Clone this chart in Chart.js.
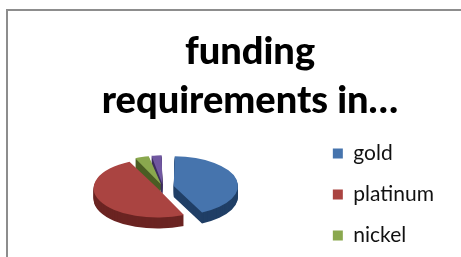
<!DOCTYPE html>
<html>
<head>
<meta charset="utf-8">
<script src="https://cdn.jsdelivr.net/npm/chart.js@4/dist/chart.umd.min.js"></script>
<style>
  html, body { margin: 0; padding: 0; background: #fff; overflow: hidden; }
  #frame {
    position: absolute; left: 6px; top: 9px;
    border-left: 2px solid #8d8d8d; border-top: 2px solid #8d8d8d;
  }
  canvas { display: block; }
</style>
</head>
<body>
<div id="frame"><canvas id="fundingChart" width="484" height="300"></canvas></div>
<script>
const metals = ["gold", "platinum", "nickel", "silver"];
const funding = [43, 50, 4, 3];
const topColors = ["#4674ad", "#aa4441", "#8aa84e", "#7057a0"];
const sideColors = ["#203f66", "#6b2422", "#4b5e25", "#3e2f5e"];

// pie placement (canvas px) and fake 3d look
const PIE_X = 155;
const PIE_Y = 176;
const TILT = 0.46;
const DEPTH = 11;

const tiltPie = {
  id: 'tiltPie',
  beforeDatasetsDraw(chart) {
    const ctx = chart.ctx;
    const arcs = chart.getDatasetMeta(0).data;
    const cx = arcs[0].x, cy = arcs[0].y;
    const place = (dy) => {
      ctx.translate(PIE_X, PIE_Y + dy);
      ctx.scale(1, TILT);
      ctx.translate(-cx, -cy);
    };
    for (let d = DEPTH; d > 0; d--) {
      ctx.save();
      place(d);
      arcs.forEach((arc, i) => {
        const side = Object.create(arc);
        side.options = Object.assign({}, arc.options, {backgroundColor: sideColors[i]});
        arc.draw.call(side, ctx);
      });
      ctx.restore();
    }
    ctx.save();
    place(0);
  },
  afterDatasetsDraw(chart) {
    chart.ctx.restore();
  }
};

new Chart("fundingChart", {
  type: "pie",
  data: {
    labels: metals,
    datasets: [{
      data: funding,
      backgroundColor: topColors,
      borderWidth: 0,
      offset: [44, 24, 24, 24],
      radius: 58,
      clip: false
    }]
  },
  options: {
    responsive: false,
    animation: false,
    devicePixelRatio: 1,
    layout: { padding: { left: 48, right: 48, top: 0, bottom: 4 } },
    plugins: {
      title: {
        display: true,
        text: ["funding", "requirements in…"],
        color: "#000",
        font: { family: "Lato", size: 38, weight: "900", lineHeight: 1.289 },
        padding: { top: 16, bottom: 0 }
      },
      legend: {
        position: "right",
        align: "end",
        labels: {
          boxWidth: 10,
          boxHeight: 10,
          padding: 20,
          color: "#111",
          font: { family: "Lato", size: 21 }
        }
      },
      tooltip: { enabled: false }
    }
  },
  plugins: [tiltPie]
});
</script>
</body>
</html>
